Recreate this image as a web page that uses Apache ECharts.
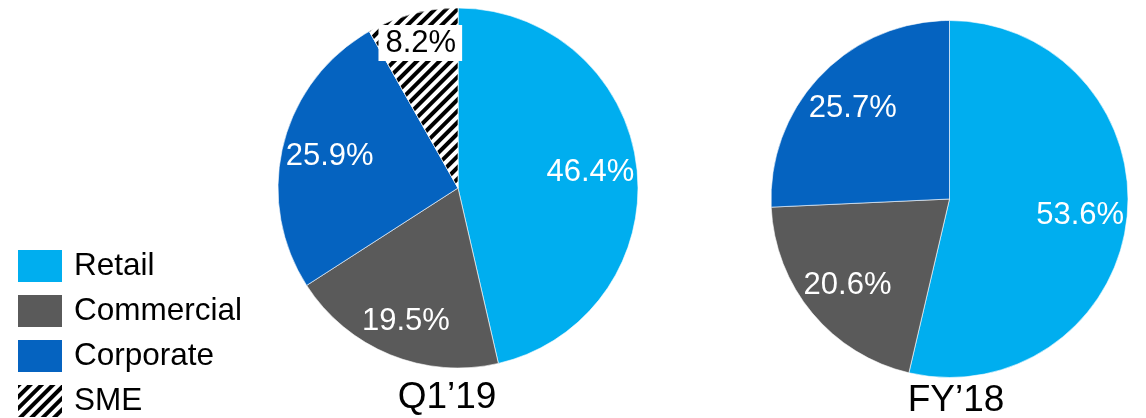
<!DOCTYPE html>
<html>
<head>
<meta charset="utf-8">
<script src="https://cdn.jsdelivr.net/npm/echarts@6/dist/echarts.min.js"></script>
<style>
  html, body { margin: 0; padding: 0; background: #fff; }
  #chart { width: 1146px; height: 418px; }
</style>
</head>
<body>
<div id="chart"></div>
<script>
// Segment mix by period
const segments = ['Retail', 'Commercial', 'Corporate', 'SME'];
const q119Values = [46.4, 19.5, 25.9, 8.2];
const fy18Values = [53.6, 20.6, 25.7];
const periodTitles = ['Q1\u201919', 'FY\u201918'];

const FONT = '"Liberation Sans", Arial, sans-serif';
const segmentColors = {
  Retail: '#00AEEF',
  Commercial: '#5A5A5A',
  Corporate: '#0563C0',
  SME: '#FFFFFF'
};
const hatch = {
  symbol: 'rect',
  symbolSize: 1,
  dashArrayX: [1, 0],
  dashArrayY: [4, 3.5],
  rotation: -Math.PI / 4,
  color: '#000000',
  backgroundColor: '#FFFFFF'
};

// Nudges for each label away from the slice's mid-radius point
const q119LabelShift = [[40, -5], [-17, 47], [-38, -9], [-14, -55]];
const fy18LabelShift = [[39, 6], [-31, 27], [-30, -27]];

function buildData(values) {
  return values.map((v, i) => {
    const name = segments[i];
    const item = {
      name: name,
      value: v,
      itemStyle: { color: segmentColors[name] }
    };
    if (name === 'SME') {
      item.itemStyle.decal = hatch;
      item.label = {
        color: '#000',
        backgroundColor: '#fff',
        padding: [3, 6, 2, 7]
      };
    }
    return item;
  });
}

function pieSeries(values, center, radius, shifts) {
  return {
    type: 'pie',
    center: center,
    radius: radius,
    startAngle: 90,
    clockwise: true,
    silent: true,
    animation: false,
    itemStyle: { borderColor: '#ffffff', borderWidth: 0.6 },
    label: {
      show: true,
      position: 'inside',
      fontFamily: FONT,
      fontSize: 31,
      color: '#ffffff',
      formatter: p => p.value.toFixed(1) + '%'
    },
    labelLine: { show: false },
    labelLayout: p => ({ dx: shifts[p.dataIndex][0], dy: shifts[p.dataIndex][1] }),
    data: buildData(values)
  };
}

const chart = echarts.init(document.getElementById('chart'), null, { renderer: 'canvas' });
chart.setOption({
  backgroundColor: '#ffffff',
  animation: false,
  title: [
    {
      text: periodTitles[0], left: 447, top: 379, textAlign: 'center', padding: 0,
      textStyle: { fontFamily: FONT, fontSize: 37, fontWeight: 'normal', color: '#000' }
    },
    {
      text: periodTitles[1], left: 956, top: 382, textAlign: 'center', padding: 0,
      textStyle: { fontFamily: FONT, fontSize: 37, fontWeight: 'normal', color: '#000' }
    }
  ],
  legend: {
    orient: 'vertical',
    left: 16,
    top: 248,
    height: 220,
    padding: 0,
    itemWidth: 46,
    itemHeight: 34,
    itemGap: 9,
    selectedMode: false,
    icon: 'rect',
    data: segments,
    textStyle: { fontFamily: FONT, fontSize: 31.5, color: '#000', padding: [0, 0, 0, 6] }
  },
  series: [
    pieSeries(q119Values, [458, 188], 180, q119LabelShift),
    pieSeries(fy18Values, [949.5, 199], 178.5, fy18LabelShift)
  ]
});
</script>
</body>
</html>
